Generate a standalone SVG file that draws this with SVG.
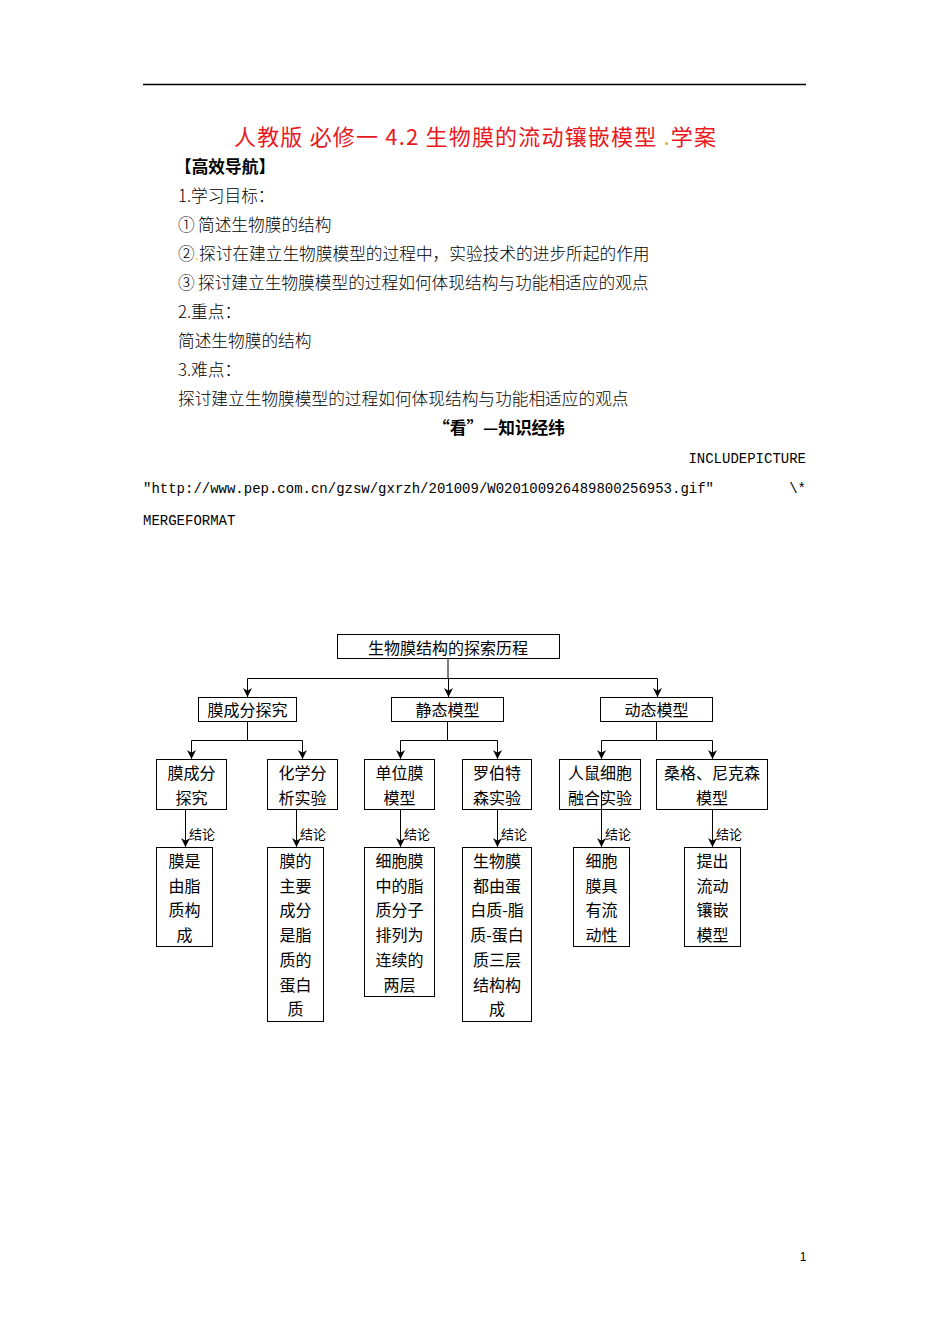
<svg xmlns="http://www.w3.org/2000/svg" width="950" height="1344" viewBox="0 0 950 1344">
<style>
.bg{fill:#fff}
.box{fill:#fff;stroke:#000;stroke-width:1}
.ln{stroke:#000;stroke-width:1;fill:none}
.t{font-family:"Noto Sans CJK SC","Noto Sans",sans-serif;font-size:16px;text-anchor:middle;fill:#000}
.lab{font-family:"Noto Sans CJK SC",sans-serif;font-size:13px;fill:#000}
.body{font-family:"Noto Sans CJK SC",sans-serif;font-size:16.7px;font-weight:300;fill:#000}
.bold{font-family:"Noto Sans CJK SC",sans-serif;font-size:16.7px;font-weight:bold;fill:#000}
.mono{font-family:"Liberation Mono",monospace;font-size:14px;fill:#000}
.title{font-family:"Noto Sans CJK SC",sans-serif;font-size:22px;fill:#e8191e}
</style>
<defs>
<marker id="arr" markerUnits="userSpaceOnUse" markerWidth="9" markerHeight="9" viewBox="0 0 10 10" refX="10" refY="5" orient="auto">
<path d="M0,0 L10,5 L0,10 L3,5 z" fill="#000"/>
</marker>
</defs>
<rect class="bg" x="0" y="0" width="950" height="1344"/>

<g id="page-text">
<line x1="143" y1="84.5" x2="806" y2="84.5" stroke="#000" stroke-width="1.3"/>
<text class="title" x="234" y="145" textLength="482" lengthAdjust="spacing" xml:space="preserve">人教版 必修一 4.2 生物膜的流动镶嵌模型 <tspan fill="#e0b040">.</tspan>学案</text>
<text class="bold" x="175" y="173">【高效导航】</text>
<text class="body" x="178" y="202">1.学习目标：</text>
<text class="body" x="178" y="231">①<tspan x="198">简述生物膜的结构</tspan></text>
<text class="body" x="178" y="260">②<tspan fill="#e0b040">.</tspan><tspan x="199">探讨在建立生物膜模型的过程中，实验技术的进步所起的作用</tspan></text>
<text class="body" x="178" y="289">③<tspan x="198">探讨建立生物膜模型的过程如何体现结构与功能相适应的观点</tspan></text>
<text class="body" x="178" y="318">2.重点：</text>
<text class="body" x="178" y="347">简述生物膜的结构</text>
<text class="body" x="178" y="376">3.难点：</text>
<text class="body" x="178" y="405">探讨建立生物膜模型的过程如何体现结构与功能相适应的观点</text>
<text class="bold" x="499" y="434" text-anchor="middle">“看”—知识经纬</text>
<text class="mono" x="806" y="463" text-anchor="end">INCLUDEPICTURE</text>
<text class="mono" x="143" y="493" textLength="571" lengthAdjust="spacingAndGlyphs">"http://www.pep.com.cn/gzsw/gxrzh/201009/W020100926489800256953.gif"</text>
<text class="mono" x="806" y="493" text-anchor="end">\*</text>
<text class="mono" x="143" y="525">MERGEFORMAT</text>
<text x="803" y="1261" text-anchor="middle" font-family="Liberation Sans,sans-serif" font-size="12" fill="#000">1</text>
</g>

<g id="connectors">
<path class="ln" d="M448,659 V678" stroke-width="2"/>
<path class="ln" d="M247.5,678.5 H657.5"/>
<path class="ln" d="M247.5,678.5 V697" marker-end="url(#arr)"/>
<path class="ln" d="M448.5,678.5 V697" marker-end="url(#arr)"/>
<path class="ln" d="M657.5,678.5 V697" marker-end="url(#arr)"/>

<path class="ln" d="M247.5,722 V740.5 M191.5,740.5 H302.5"/>
<path class="ln" d="M191.5,740.5 V759" marker-end="url(#arr)"/>
<path class="ln" d="M302.5,740.5 V759" marker-end="url(#arr)"/>
<path class="ln" d="M447.5,722 V740.5 M400.5,740.5 H497.5"/>
<path class="ln" d="M400.5,740.5 V759" marker-end="url(#arr)"/>
<path class="ln" d="M497.5,740.5 V759" marker-end="url(#arr)"/>
<path class="ln" d="M656.5,722 V740.5 M601.5,740.5 H712.5"/>
<path class="ln" d="M601.5,740.5 V759" marker-end="url(#arr)"/>
<path class="ln" d="M712.5,740.5 V759" marker-end="url(#arr)"/>

<path class="ln" d="M185.5,809 V847" marker-end="url(#arr)"/>
<path class="ln" d="M296.5,809 V847" marker-end="url(#arr)"/>
<path class="ln" d="M400.5,809 V847" marker-end="url(#arr)"/>
<path class="ln" d="M497.5,809 V847" marker-end="url(#arr)"/>
<path class="ln" d="M601.5,809 V847" marker-end="url(#arr)"/>
<path class="ln" d="M712.5,809 V847" marker-end="url(#arr)"/>
<text class="lab" x="189" y="839">结论</text>
<text class="lab" x="300" y="839">结论</text>
<text class="lab" x="404" y="839">结论</text>
<text class="lab" x="501" y="839">结论</text>
<text class="lab" x="605" y="839">结论</text>
<text class="lab" x="716" y="839">结论</text>
</g>

<g id="root">
<rect class="box" x="337.5" y="634.5" width="222" height="24"/>
<text class="t" x="448" y="654">生物膜结构的探索历程</text>
</g>

<g id="n-membrane-component">
<rect class="box" x="198.5" y="697.5" width="98" height="24"/>
<text class="t" x="247.5" y="716">膜成分探究</text>
</g>
<g id="n-static-model">
<rect class="box" x="391.5" y="697.5" width="112" height="24"/>
<text class="t" x="447.5" y="716">静态模型</text>
</g>
<g id="n-dynamic-model">
<rect class="box" x="600.5" y="697.5" width="112" height="24"/>
<text class="t" x="656.5" y="716">动态模型</text>
</g>

<g id="n-l3-1">
<rect class="box" x="156.5" y="759.5" width="70" height="50"/>
<text class="t" x="191.5" y="779">膜成分<tspan x="191.5" y="804">探究</tspan></text>
</g>
<g id="n-l3-2">
<rect class="box" x="267.5" y="759.5" width="70" height="50"/>
<text class="t" x="302.5" y="779">化学分<tspan x="302.5" y="804">析实验</tspan></text>
</g>
<g id="n-l3-3">
<rect class="box" x="364.5" y="759.5" width="70" height="50"/>
<text class="t" x="399.5" y="779">单位膜<tspan x="399.5" y="804">模型</tspan></text>
</g>
<g id="n-l3-4">
<rect class="box" x="462.5" y="759.5" width="69" height="50"/>
<text class="t" x="497" y="779">罗伯特<tspan x="497" y="804">森实验</tspan></text>
</g>
<g id="n-l3-5">
<rect class="box" x="559.5" y="759.5" width="81" height="50"/>
<text class="t" x="600" y="779">人鼠细胞<tspan x="600" y="804">融合实验</tspan></text>
</g>
<g id="n-l3-6">
<rect class="box" x="656.5" y="759.5" width="111" height="50"/>
<text class="t" x="712" y="779">桑格、尼克森<tspan x="712" y="804">模型</tspan></text>
</g>
<path class="ln" d="M601.5,790 V809"/>

<g id="n-l4-1">
<rect class="box" x="156.5" y="847.5" width="56" height="99"/>
<text class="t" x="184.5" y="867">膜是<tspan x="184.5" dy="24.7">由脂</tspan><tspan x="184.5" dy="24.7">质构</tspan><tspan x="184.5" dy="24.7">成</tspan></text>
</g>
<g id="n-l4-2">
<rect class="box" x="267.5" y="847.5" width="56" height="174"/>
<text class="t" x="295.5" y="867">膜的<tspan x="295.5" dy="24.7">主要</tspan><tspan x="295.5" dy="24.7">成分</tspan><tspan x="295.5" dy="24.7">是脂</tspan><tspan x="295.5" dy="24.7">质的</tspan><tspan x="295.5" dy="24.7">蛋白</tspan><tspan x="295.5" dy="24.7">质</tspan></text>
</g>
<g id="n-l4-3">
<rect class="box" x="364.5" y="847.5" width="70" height="149"/>
<text class="t" x="399.5" y="867">细胞膜<tspan x="399.5" dy="24.7">中的脂</tspan><tspan x="399.5" dy="24.7">质分子</tspan><tspan x="399.5" dy="24.7">排列为</tspan><tspan x="399.5" dy="24.7">连续的</tspan><tspan x="399.5" dy="24.7">两层</tspan></text>
</g>
<g id="n-l4-4">
<rect class="box" x="462.5" y="847.5" width="69" height="174"/>
<text class="t" x="497" y="867">生物膜<tspan x="497" dy="24.7">都由蛋</tspan><tspan x="497" dy="24.7">白质-脂</tspan><tspan x="497" dy="24.7">质-蛋白</tspan><tspan x="497" dy="24.7">质三层</tspan><tspan x="497" dy="24.7">结构构</tspan><tspan x="497" dy="24.7">成</tspan></text>
</g>
<g id="n-l4-5">
<rect class="box" x="573.5" y="847.5" width="56" height="99"/>
<text class="t" x="601.5" y="867">细胞<tspan x="601.5" dy="24.7">膜具</tspan><tspan x="601.5" dy="24.7">有流</tspan><tspan x="601.5" dy="24.7">动性</tspan></text>
</g>
<g id="n-l4-6">
<rect class="box" x="684.5" y="847.5" width="56" height="99"/>
<text class="t" x="712.5" y="867">提出<tspan x="712.5" dy="24.7">流动</tspan><tspan x="712.5" dy="24.7">镶嵌</tspan><tspan x="712.5" dy="24.7">模型</tspan></text>
</g>
</svg>
